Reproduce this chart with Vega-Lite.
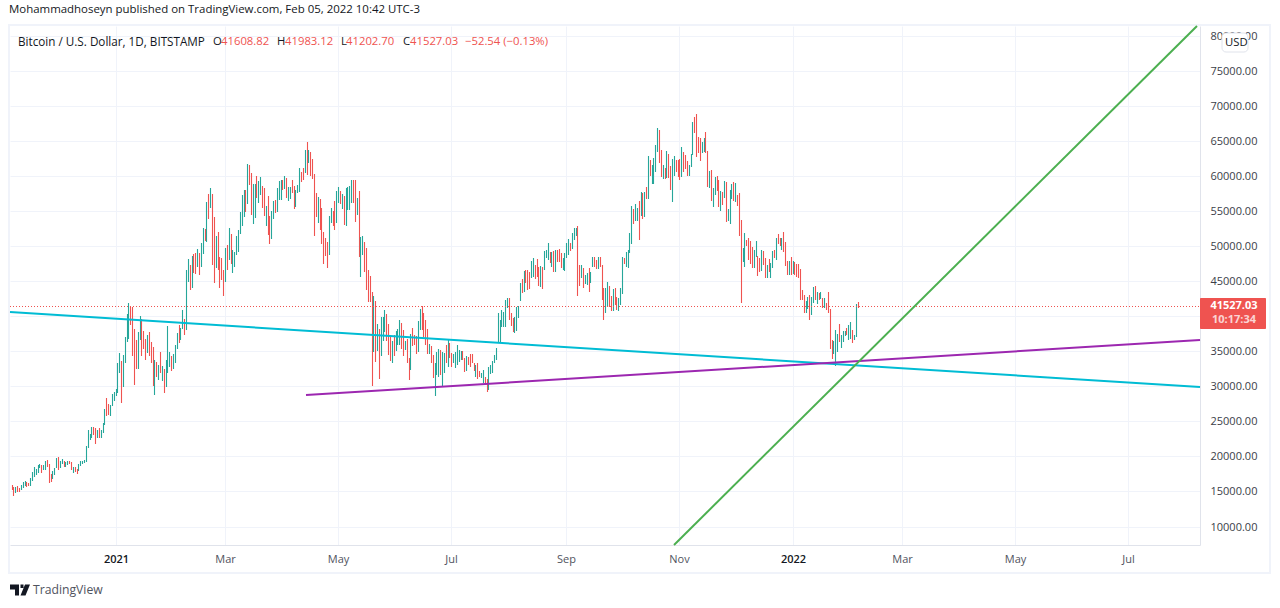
{
"$schema":"https://vega.github.io/schema/vega-lite/v6.json",
"width":1190,"height":519,
"autosize":{"type":"none"},
"padding":{"left":10,"top":26,"right":80,"bottom":63},
"background":"white",
"config":{"view":{"stroke":null},"font":"Open Sans"},
"title":{"text":"Mohammadhoseyn published on TradingView.com, Feb 05, 2022 10:42 UTC-3","anchor":"start","frame":"group","offset":7,"dx":-1,"fontSize":11.45,"fontWeight":"normal","color":"#131722"},
"encoding":{
"x":{"field":"date","type":"temporal","title":null,
"scale":{"type":"utc","domain":["2020-11-05T03:00:00Z","2022-08-08T14:24:00Z"],"round":true},
"axis":{"values":[{"year":2021,"month":1,"date":1,"utc":true},{"year":2021,"month":3,"date":1,"utc":true},{"year":2021,"month":5,"date":1,"utc":true},{"year":2021,"month":7,"date":1,"utc":true},{"year":2021,"month":9,"date":1,"utc":true},{"year":2021,"month":11,"date":1,"utc":true},{"year":2022,"month":1,"date":1,"utc":true},{"year":2022,"month":3,"date":1,"utc":true},{"year":2022,"month":5,"date":1,"utc":true},{"year":2022,"month":7,"date":1,"utc":true}],
"labelExpr":"utcFormat(datum.value,'%m')=='01' ? utcFormat(datum.value,'%Y') : utcFormat(datum.value,'%b')",
"labelColor":{"condition":{"test":"utcFormat(datum.value,'%m')=='01'","value":"#131722"},"value":"#50535e"},
"labelFontWeight":{"condition":{"test":"utcFormat(datum.value,'%m')=='01'","value":600},"value":"normal"},
"labelFontSize":11,"labelPadding":8,"tickSize":0,"grid":true,"gridColor":"#f0f3fa","domainColor":"#e0e3eb"}},
"y":{"field":"price","type":"quantitative","title":null,
"scale":{"domain":[7360,81427],"nice":false,"zero":false,"round":true},
"axis":{"orient":"right","values":[10000,15000,20000,25000,30000,35000,40000,45000,50000,55000,60000,65000,70000,75000,80000],"format":".2f","labelFontSize":11,"labelColor":"#3b3e48","labelPadding":10,"tickSize":0,"grid":true,"gridColor":"#f0f3fa","domainColor":"#e0e3eb"}}
},
"resolve":{"scale":{"color":"independent"}},
"layer":[
{"data":{"values":[{"date":"2020-11-04T14:00:00Z","date2":"2022-09-15T07:00:00Z","price":81570,"price2":3370}],"format":{"parse":{"date":"date","date2":"date"}}},
"mark":{"type":"rect","fillOpacity":0,"stroke":"#f0f3fa","strokeWidth":2},
"encoding":{"x2":{"field":"date2"},"y2":{"field":"price2"}}},
{"data":{"values":[
{"date":"2020-11-06","lo":15212,"hi":15925,"dir":"d"},
{"date":"2020-11-07","lo":14403,"hi":15688,"dir":"d"},
{"date":"2020-11-08","lo":14736,"hi":15688,"dir":"u"},
{"date":"2020-11-09","lo":14926,"hi":15783,"dir":"d"},
{"date":"2020-11-10","lo":14970,"hi":15450,"dir":"d"},
{"date":"2020-11-11","lo":15212,"hi":15925,"dir":"u"},
{"date":"2020-11-12","lo":15450,"hi":16300,"dir":"u"},
{"date":"2020-11-13","lo":15830,"hi":16500,"dir":"u"},
{"date":"2020-11-14","lo":15690,"hi":16300,"dir":"d"},
{"date":"2020-11-15","lo":15780,"hi":16260,"dir":"d"},
{"date":"2020-11-16","lo":15830,"hi":16970,"dir":"u"},
{"date":"2020-11-17","lo":16550,"hi":17830,"dir":"u"},
{"date":"2020-11-18","lo":17100,"hi":18500,"dir":"u"},
{"date":"2020-11-19","lo":17350,"hi":18210,"dir":"u"},
{"date":"2020-11-20","lo":17680,"hi":18780,"dir":"u"},
{"date":"2020-11-21","lo":18300,"hi":18920,"dir":"u"},
{"date":"2020-11-22","lo":17680,"hi":18780,"dir":"d"},
{"date":"2020-11-23","lo":18070,"hi":18730,"dir":"u"},
{"date":"2020-11-24","lo":18070,"hi":19350,"dir":"u"},
{"date":"2020-11-25","lo":18540,"hi":19490,"dir":"d"},
{"date":"2020-11-26","lo":16260,"hi":18920,"dir":"d"},
{"date":"2020-11-27","lo":16400,"hi":17500,"dir":"d"},
{"date":"2020-11-28","lo":16780,"hi":17920,"dir":"u"},
{"date":"2020-11-29","lo":17350,"hi":18300,"dir":"u"},
{"date":"2020-11-30","lo":18400,"hi":19830,"dir":"u"},
{"date":"2020-12-01","lo":18070,"hi":19880,"dir":"d"},
{"date":"2020-12-02","lo":18400,"hi":19350,"dir":"u"},
{"date":"2020-12-03","lo":18920,"hi":19630,"dir":"u"},
{"date":"2020-12-04","lo":18540,"hi":19400,"dir":"d"},
{"date":"2020-12-05","lo":18540,"hi":19200,"dir":"u"},
{"date":"2020-12-06","lo":18780,"hi":19350,"dir":"u"},
{"date":"2020-12-07","lo":18870,"hi":19350,"dir":"d"},
{"date":"2020-12-08","lo":18070,"hi":19200,"dir":"d"},
{"date":"2020-12-09","lo":17680,"hi":18540,"dir":"u"},
{"date":"2020-12-10","lo":17830,"hi":18540,"dir":"d"},
{"date":"2020-12-11","lo":17500,"hi":18210,"dir":"d"},
{"date":"2020-12-12","lo":17970,"hi":18920,"dir":"u"},
{"date":"2020-12-13","lo":18680,"hi":19350,"dir":"u"},
{"date":"2020-12-14","lo":18870,"hi":19350,"dir":"u"},
{"date":"2020-12-15","lo":19110,"hi":19490,"dir":"u"},
{"date":"2020-12-16","lo":19200,"hi":21490,"dir":"u"},
{"date":"2020-12-17","lo":21250,"hi":23770,"dir":"u"},
{"date":"2020-12-18","lo":22340,"hi":23200,"dir":"u"},
{"date":"2020-12-19","lo":22580,"hi":24250,"dir":"u"},
{"date":"2020-12-20","lo":23060,"hi":24150,"dir":"d"},
{"date":"2020-12-21","lo":21780,"hi":24010,"dir":"d"},
{"date":"2020-12-22","lo":22580,"hi":23770,"dir":"u"},
{"date":"2020-12-23","lo":22580,"hi":24010,"dir":"d"},
{"date":"2020-12-24","lo":22580,"hi":23770,"dir":"u"},
{"date":"2020-12-25","lo":23390,"hi":24730,"dir":"u"},
{"date":"2020-12-26","lo":24490,"hi":26720,"dir":"u"},
{"date":"2020-12-27","lo":25770,"hi":28340,"dir":"d"},
{"date":"2020-12-28","lo":25900,"hi":27440,"dir":"d"},
{"date":"2020-12-29","lo":25770,"hi":27340,"dir":"u"},
{"date":"2020-12-30","lo":27200,"hi":28910,"dir":"u"},
{"date":"2020-12-31","lo":27910,"hi":29200,"dir":"u"},
{"date":"2021-01-01","lo":28630,"hi":29625,"dir":"u"},
{"date":"2021-01-02","lo":29100,"hi":33290,"dir":"u"},
{"date":"2021-01-03","lo":31960,"hi":34720,"dir":"u"},
{"date":"2021-01-04","lo":27680,"hi":33620,"dir":"d"},
{"date":"2021-01-05","lo":29960,"hi":34480,"dir":"u"},
{"date":"2021-01-06","lo":33380,"hi":37040,"dir":"u"},
{"date":"2021-01-07","lo":36380,"hi":40330,"dir":"u"},
{"date":"2021-01-08","lo":36710,"hi":41850,"dir":"u"},
{"date":"2021-01-09","lo":38760,"hi":41380,"dir":"d"},
{"date":"2021-01-10","lo":34380,"hi":41380,"dir":"d"},
{"date":"2021-01-11","lo":30200,"hi":38190,"dir":"d"},
{"date":"2021-01-12","lo":32480,"hi":36620,"dir":"d"},
{"date":"2021-01-13","lo":32430,"hi":37760,"dir":"u"},
{"date":"2021-01-14","lo":36620,"hi":40040,"dir":"u"},
{"date":"2021-01-15","lo":34380,"hi":39620,"dir":"d"},
{"date":"2021-01-16","lo":35330,"hi":37900,"dir":"d"},
{"date":"2021-01-17","lo":33760,"hi":36710,"dir":"d"},
{"date":"2021-01-18","lo":34810,"hi":37330,"dir":"u"},
{"date":"2021-01-19","lo":34380,"hi":37760,"dir":"d"},
{"date":"2021-01-20","lo":33380,"hi":36380,"dir":"d"},
{"date":"2021-01-21","lo":30050,"hi":35620,"dir":"d"},
{"date":"2021-01-22","lo":28770,"hi":33760,"dir":"u"},
{"date":"2021-01-23","lo":31380,"hi":33530,"dir":"d"},
{"date":"2021-01-24","lo":30910,"hi":33000,"dir":"u"},
{"date":"2021-01-25","lo":31960,"hi":34910,"dir":"d"},
{"date":"2021-01-26","lo":30810,"hi":32910,"dir":"u"},
{"date":"2021-01-27","lo":29100,"hi":32430,"dir":"d"},
{"date":"2021-01-28","lo":29960,"hi":33760,"dir":"u"},
{"date":"2021-01-29","lo":31960,"hi":38620,"dir":"u"},
{"date":"2021-01-30","lo":32810,"hi":34910,"dir":"u"},
{"date":"2021-01-31","lo":32240,"hi":34340,"dir":"d"},
{"date":"2021-02-01","lo":32430,"hi":34620,"dir":"u"},
{"date":"2021-02-02","lo":33380,"hi":35900,"dir":"u"},
{"date":"2021-02-03","lo":35380,"hi":37620,"dir":"u"},
{"date":"2021-02-04","lo":36240,"hi":38760,"dir":"d"},
{"date":"2021-02-05","lo":36620,"hi":38330,"dir":"u"},
{"date":"2021-02-06","lo":38240,"hi":40900,"dir":"u"},
{"date":"2021-02-07","lo":37330,"hi":39620,"dir":"d"},
{"date":"2021-02-08","lo":38000,"hi":46600,"dir":"u"},
{"date":"2021-02-09","lo":44940,"hi":48170,"dir":"u"},
{"date":"2021-02-10","lo":43750,"hi":47320,"dir":"d"},
{"date":"2021-02-11","lo":44040,"hi":48600,"dir":"u"},
{"date":"2021-02-12","lo":46130,"hi":48890,"dir":"d"},
{"date":"2021-02-13","lo":46040,"hi":48990,"dir":"d"},
{"date":"2021-02-14","lo":47080,"hi":49600,"dir":"u"},
{"date":"2021-02-15","lo":45900,"hi":48990,"dir":"d"},
{"date":"2021-02-16","lo":47080,"hi":50410,"dir":"u"},
{"date":"2021-02-17","lo":48890,"hi":52600,"dir":"u"},
{"date":"2021-02-18","lo":50790,"hi":52460,"dir":"d"},
{"date":"2021-02-19","lo":50600,"hi":56310,"dir":"u"},
{"date":"2021-02-20","lo":53880,"hi":57450,"dir":"d"},
{"date":"2021-02-21","lo":55450,"hi":58310,"dir":"u"},
{"date":"2021-02-22","lo":47320,"hi":57450,"dir":"d"},
{"date":"2021-02-23","lo":44800,"hi":54120,"dir":"d"},
{"date":"2021-02-24","lo":46890,"hi":51460,"dir":"u"},
{"date":"2021-02-25","lo":46610,"hi":52030,"dir":"d"},
{"date":"2021-02-26","lo":44040,"hi":48460,"dir":"d"},
{"date":"2021-02-27","lo":45180,"hi":48320,"dir":"d"},
{"date":"2021-02-28","lo":42900,"hi":46600,"dir":"d"},
{"date":"2021-03-01","lo":44890,"hi":49750,"dir":"u"},
{"date":"2021-03-02","lo":46610,"hi":50170,"dir":"d"},
{"date":"2021-03-03","lo":48030,"hi":52600,"dir":"u"},
{"date":"2021-03-04","lo":47460,"hi":51740,"dir":"d"},
{"date":"2021-03-05","lo":46180,"hi":49460,"dir":"u"},
{"date":"2021-03-06","lo":47030,"hi":49170,"dir":"u"},
{"date":"2021-03-07","lo":48750,"hi":51460,"dir":"u"},
{"date":"2021-03-08","lo":49170,"hi":52310,"dir":"u"},
{"date":"2021-03-09","lo":51740,"hi":54880,"dir":"u"},
{"date":"2021-03-10","lo":52890,"hi":57310,"dir":"u"},
{"date":"2021-03-11","lo":54120,"hi":58020,"dir":"u"},
{"date":"2021-03-12","lo":54880,"hi":58020,"dir":"d"},
{"date":"2021-03-13","lo":56030,"hi":61730,"dir":"u"},
{"date":"2021-03-14","lo":58740,"hi":61590,"dir":"d"},
{"date":"2021-03-15","lo":54460,"hi":60400,"dir":"d"},
{"date":"2021-03-16","lo":53170,"hi":58880,"dir":"u"},
{"date":"2021-03-17","lo":54030,"hi":58880,"dir":"u"},
{"date":"2021-03-18","lo":56830,"hi":60020,"dir":"d"},
{"date":"2021-03-19","lo":56170,"hi":59310,"dir":"u"},
{"date":"2021-03-20","lo":57310,"hi":59880,"dir":"u"},
{"date":"2021-03-21","lo":55450,"hi":58600,"dir":"d"},
{"date":"2021-03-22","lo":54310,"hi":58310,"dir":"d"},
{"date":"2021-03-23","lo":52890,"hi":55740,"dir":"u"},
{"date":"2021-03-24","lo":51600,"hi":57170,"dir":"d"},
{"date":"2021-03-25","lo":50320,"hi":54310,"dir":"d"},
{"date":"2021-03-26","lo":51030,"hi":55020,"dir":"u"},
{"date":"2021-03-27","lo":53880,"hi":56450,"dir":"u"},
{"date":"2021-03-28","lo":54690,"hi":56600,"dir":"d"},
{"date":"2021-03-29","lo":54930,"hi":58310,"dir":"u"},
{"date":"2021-03-30","lo":56600,"hi":59310,"dir":"u"},
{"date":"2021-03-31","lo":56600,"hi":59450,"dir":"u"},
{"date":"2021-04-01","lo":58020,"hi":59450,"dir":"d"},
{"date":"2021-04-02","lo":58120,"hi":60020,"dir":"u"},
{"date":"2021-04-03","lo":56830,"hi":59740,"dir":"d"},
{"date":"2021-04-04","lo":56450,"hi":58450,"dir":"u"},
{"date":"2021-04-05","lo":56740,"hi":58450,"dir":"u"},
{"date":"2021-04-06","lo":57550,"hi":59450,"dir":"d"},
{"date":"2021-04-07","lo":55310,"hi":58600,"dir":"d"},
{"date":"2021-04-08","lo":55600,"hi":58020,"dir":"u"},
{"date":"2021-04-09","lo":57640,"hi":58740,"dir":"u"},
{"date":"2021-04-10","lo":57790,"hi":61160,"dir":"u"},
{"date":"2021-04-11","lo":59160,"hi":60590,"dir":"d"},
{"date":"2021-04-12","lo":59450,"hi":61160,"dir":"d"},
{"date":"2021-04-13","lo":60400,"hi":63730,"dir":"u"},
{"date":"2021-04-14","lo":60170,"hi":64870,"dir":"d"},
{"date":"2021-04-15","lo":61830,"hi":63730,"dir":"u"},
{"date":"2021-04-16","lo":60020,"hi":63450,"dir":"d"},
{"date":"2021-04-17","lo":59590,"hi":62450,"dir":"d"},
{"date":"2021-04-18","lo":51460,"hi":60310,"dir":"d"},
{"date":"2021-04-19","lo":54120,"hi":57600,"dir":"d"},
{"date":"2021-04-20","lo":53310,"hi":57020,"dir":"u"},
{"date":"2021-04-21","lo":52310,"hi":56740,"dir":"d"},
{"date":"2021-04-22","lo":50320,"hi":55450,"dir":"d"},
{"date":"2021-04-23","lo":47460,"hi":52030,"dir":"d"},
{"date":"2021-04-24","lo":48600,"hi":51170,"dir":"d"},
{"date":"2021-04-25","lo":46890,"hi":50600,"dir":"d"},
{"date":"2021-04-26","lo":48750,"hi":54310,"dir":"u"},
{"date":"2021-04-27","lo":53310,"hi":55450,"dir":"u"},
{"date":"2021-04-28","lo":52890,"hi":55020,"dir":"d"},
{"date":"2021-04-29","lo":52310,"hi":56450,"dir":"d"},
{"date":"2021-04-30","lo":53310,"hi":57880,"dir":"u"},
{"date":"2021-05-01","lo":56170,"hi":58450,"dir":"u"},
{"date":"2021-05-02","lo":56030,"hi":57880,"dir":"d"},
{"date":"2021-05-03","lo":55300,"hi":57460,"dir":"u"},
{"date":"2021-05-04","lo":53030,"hi":57170,"dir":"d"},
{"date":"2021-05-05","lo":52890,"hi":58310,"dir":"u"},
{"date":"2021-05-06","lo":55170,"hi":58450,"dir":"u"},
{"date":"2021-05-07","lo":55170,"hi":58600,"dir":"u"},
{"date":"2021-05-08","lo":56120,"hi":59450,"dir":"u"},
{"date":"2021-05-09","lo":56220,"hi":59450,"dir":"d"},
{"date":"2021-05-10","lo":53500,"hi":59450,"dir":"d"},
{"date":"2021-05-11","lo":54460,"hi":56880,"dir":"u"},
{"date":"2021-05-12","lo":48510,"hi":57880,"dir":"d"},
{"date":"2021-05-13","lo":45660,"hi":51310,"dir":"u"},
{"date":"2021-05-14","lo":48750,"hi":51460,"dir":"u"},
{"date":"2021-05-15","lo":46320,"hi":50600,"dir":"d"},
{"date":"2021-05-16","lo":43750,"hi":49750,"dir":"d"},
{"date":"2021-05-17","lo":41990,"hi":46600,"dir":"d"},
{"date":"2021-05-18","lo":42040,"hi":45750,"dir":"d"},
{"date":"2021-05-19","lo":30100,"hi":43470,"dir":"d"},
{"date":"2021-05-20","lo":34900,"hi":42900,"dir":"u"},
{"date":"2021-05-21","lo":33480,"hi":42180,"dir":"d"},
{"date":"2021-05-22","lo":35100,"hi":38900,"dir":"u"},
{"date":"2021-05-23","lo":31050,"hi":38190,"dir":"d"},
{"date":"2021-05-24","lo":34330,"hi":39900,"dir":"u"},
{"date":"2021-05-25","lo":36480,"hi":39900,"dir":"u"},
{"date":"2021-05-26","lo":37800,"hi":40900,"dir":"u"},
{"date":"2021-05-27","lo":36480,"hi":40330,"dir":"d"},
{"date":"2021-05-28","lo":34480,"hi":38900,"dir":"d"},
{"date":"2021-05-29","lo":33620,"hi":37330,"dir":"d"},
{"date":"2021-05-30","lo":33340,"hi":36480,"dir":"u"},
{"date":"2021-05-31","lo":34330,"hi":37330,"dir":"d"},
{"date":"2021-06-01","lo":35050,"hi":37900,"dir":"u"},
{"date":"2021-06-02","lo":35900,"hi":38190,"dir":"u"},
{"date":"2021-06-03","lo":35900,"hi":39470,"dir":"u"},
{"date":"2021-06-04","lo":35330,"hi":39040,"dir":"d"},
{"date":"2021-06-05","lo":34330,"hi":38050,"dir":"d"},
{"date":"2021-06-06","lo":35190,"hi":36480,"dir":"u"},
{"date":"2021-06-07","lo":33340,"hi":36760,"dir":"d"},
{"date":"2021-06-08","lo":30910,"hi":34050,"dir":"d"},
{"date":"2021-06-09","lo":32340,"hi":37470,"dir":"u"},
{"date":"2021-06-10","lo":35760,"hi":38330,"dir":"d"},
{"date":"2021-06-11","lo":35900,"hi":37330,"dir":"d"},
{"date":"2021-06-12","lo":34620,"hi":37190,"dir":"d"},
{"date":"2021-06-13","lo":34900,"hi":39330,"dir":"u"},
{"date":"2021-06-14","lo":38050,"hi":41040,"dir":"u"},
{"date":"2021-06-15","lo":38050,"hi":41470,"dir":"d"},
{"date":"2021-06-16","lo":37090,"hi":40420,"dir":"d"},
{"date":"2021-06-17","lo":35900,"hi":39470,"dir":"d"},
{"date":"2021-06-18","lo":34620,"hi":38190,"dir":"d"},
{"date":"2021-06-19","lo":34620,"hi":36050,"dir":"u"},
{"date":"2021-06-20","lo":33340,"hi":35750,"dir":"d"},
{"date":"2021-06-21","lo":31200,"hi":34480,"dir":"d"},
{"date":"2021-06-22","lo":28670,"hi":33290,"dir":"u"},
{"date":"2021-06-23","lo":31623,"hi":34905,"dir":"u"},
{"date":"2021-06-24","lo":31338,"hi":35333,"dir":"u"},
{"date":"2021-06-25","lo":31623,"hi":35190,"dir":"d"},
{"date":"2021-06-26","lo":30053,"hi":34905,"dir":"u"},
{"date":"2021-06-27","lo":31861,"hi":34763,"dir":"u"},
{"date":"2021-06-28","lo":33288,"hi":35904,"dir":"d"},
{"date":"2021-06-29","lo":32812,"hi":36618,"dir":"u"},
{"date":"2021-06-30","lo":34001,"hi":36142,"dir":"d"},
{"date":"2021-07-01","lo":32717,"hi":34810,"dir":"d"},
{"date":"2021-07-02","lo":33288,"hi":34620,"dir":"u"},
{"date":"2021-07-03","lo":32622,"hi":34905,"dir":"u"},
{"date":"2021-07-04","lo":33050,"hi":35904,"dir":"u"},
{"date":"2021-07-05","lo":33526,"hi":35190,"dir":"u"},
{"date":"2021-07-06","lo":33764,"hi":35000,"dir":"u"},
{"date":"2021-07-07","lo":33764,"hi":35000,"dir":"d"},
{"date":"2021-07-08","lo":32051,"hi":34002,"dir":"d"},
{"date":"2021-07-09","lo":32194,"hi":34335,"dir":"u"},
{"date":"2021-07-10","lo":33098,"hi":34239,"dir":"d"},
{"date":"2021-07-11","lo":32717,"hi":34620,"dir":"d"},
{"date":"2021-07-12","lo":33288,"hi":34620,"dir":"d"},
{"date":"2021-07-13","lo":32147,"hi":33288,"dir":"d"},
{"date":"2021-07-14","lo":31385,"hi":33050,"dir":"u"},
{"date":"2021-07-15","lo":31052,"hi":33288,"dir":"d"},
{"date":"2021-07-16","lo":31338,"hi":32147,"dir":"d"},
{"date":"2021-07-17","lo":31147,"hi":31956,"dir":"u"},
{"date":"2021-07-18","lo":30434,"hi":32337,"dir":"u"},
{"date":"2021-07-19","lo":30339,"hi":31385,"dir":"d"},
{"date":"2021-07-20","lo":29245,"hi":31052,"dir":"d"},
{"date":"2021-07-21","lo":29480,"hi":32760,"dir":"u"},
{"date":"2021-07-22","lo":31720,"hi":33050,"dir":"u"},
{"date":"2021-07-23","lo":31860,"hi":33620,"dir":"u"},
{"date":"2021-07-24","lo":33290,"hi":34520,"dir":"u"},
{"date":"2021-07-25","lo":33760,"hi":35430,"dir":"u"},
{"date":"2021-07-26","lo":36240,"hi":40520,"dir":"u"},
{"date":"2021-07-27","lo":36380,"hi":39470,"dir":"u"},
{"date":"2021-07-28","lo":38520,"hi":40900,"dir":"u"},
{"date":"2021-07-29","lo":38520,"hi":40610,"dir":"u"},
{"date":"2021-07-30","lo":38420,"hi":42320,"dir":"u"},
{"date":"2021-07-31","lo":41130,"hi":42560,"dir":"u"},
{"date":"2021-08-01","lo":39470,"hi":42610,"dir":"d"},
{"date":"2021-08-02","lo":38620,"hi":40520,"dir":"d"},
{"date":"2021-08-03","lo":37810,"hi":39710,"dir":"d"},
{"date":"2021-08-04","lo":37570,"hi":39950,"dir":"u"},
{"date":"2021-08-05","lo":37900,"hi":41280,"dir":"u"},
{"date":"2021-08-06","lo":39710,"hi":41470,"dir":"u"},
{"date":"2021-08-07","lo":42180,"hi":44800,"dir":"u"},
{"date":"2021-08-08","lo":43280,"hi":45270,"dir":"d"},
{"date":"2021-08-09","lo":43520,"hi":46470,"dir":"u"},
{"date":"2021-08-10","lo":44700,"hi":46610,"dir":"d"},
{"date":"2021-08-11","lo":43750,"hi":46610,"dir":"d"},
{"date":"2021-08-12","lo":43850,"hi":46370,"dir":"d"},
{"date":"2021-08-13","lo":45420,"hi":47940,"dir":"u"},
{"date":"2021-08-14","lo":45650,"hi":48370,"dir":"u"},
{"date":"2021-08-15","lo":45270,"hi":47320,"dir":"d"},
{"date":"2021-08-16","lo":45560,"hi":48130,"dir":"d"},
{"date":"2021-08-17","lo":44320,"hi":47080,"dir":"d"},
{"date":"2021-08-18","lo":44230,"hi":47180,"dir":"u"},
{"date":"2021-08-19","lo":43940,"hi":47080,"dir":"d"},
{"date":"2021-08-20","lo":46610,"hi":49320,"dir":"u"},
{"date":"2021-08-21","lo":48260,"hi":49460,"dir":"u"},
{"date":"2021-08-22","lo":48030,"hi":50410,"dir":"u"},
{"date":"2021-08-23","lo":47560,"hi":49220,"dir":"d"},
{"date":"2021-08-24","lo":47080,"hi":49220,"dir":"u"},
{"date":"2021-08-25","lo":46370,"hi":49360,"dir":"d"},
{"date":"2021-08-26","lo":46370,"hi":49460,"dir":"u"},
{"date":"2021-08-27","lo":47800,"hi":49460,"dir":"d"},
{"date":"2021-08-28","lo":47800,"hi":49600,"dir":"d"},
{"date":"2021-08-29","lo":46850,"hi":48990,"dir":"d"},
{"date":"2021-08-30","lo":46610,"hi":48270,"dir":"u"},
{"date":"2021-08-31","lo":46470,"hi":48990,"dir":"u"},
{"date":"2021-09-01","lo":48270,"hi":50410,"dir":"u"},
{"date":"2021-09-02","lo":48740,"hi":50980,"dir":"u"},
{"date":"2021-09-03","lo":49270,"hi":50500,"dir":"d"},
{"date":"2021-09-04","lo":49560,"hi":51930,"dir":"u"},
{"date":"2021-09-05","lo":50890,"hi":52550,"dir":"u"},
{"date":"2021-09-06","lo":51400,"hi":52550,"dir":"u"},
{"date":"2021-09-07","lo":42900,"hi":52890,"dir":"d"},
{"date":"2021-09-08","lo":44320,"hi":47320,"dir":"d"},
{"date":"2021-09-09","lo":45510,"hi":47320,"dir":"u"},
{"date":"2021-09-10","lo":43990,"hi":46940,"dir":"d"},
{"date":"2021-09-11","lo":44610,"hi":45890,"dir":"u"},
{"date":"2021-09-12","lo":44470,"hi":46130,"dir":"u"},
{"date":"2021-09-13","lo":43420,"hi":46940,"dir":"d"},
{"date":"2021-09-14","lo":44700,"hi":46370,"dir":"u"},
{"date":"2021-09-15","lo":47080,"hi":48510,"dir":"u"},
{"date":"2021-09-16","lo":46990,"hi":48410,"dir":"d"},
{"date":"2021-09-17","lo":46700,"hi":48030,"dir":"d"},
{"date":"2021-09-18","lo":46700,"hi":48510,"dir":"u"},
{"date":"2021-09-19","lo":47080,"hi":48510,"dir":"d"},
{"date":"2021-09-20","lo":42330,"hi":47320,"dir":"d"},
{"date":"2021-09-21","lo":39470,"hi":43990,"dir":"d"},
{"date":"2021-09-22","lo":40520,"hi":43990,"dir":"u"},
{"date":"2021-09-23","lo":41280,"hi":44940,"dir":"u"},
{"date":"2021-09-24","lo":41280,"hi":44370,"dir":"d"},
{"date":"2021-09-25","lo":40800,"hi":42900,"dir":"d"},
{"date":"2021-09-26","lo":40750,"hi":43900,"dir":"u"},
{"date":"2021-09-27","lo":41610,"hi":43990,"dir":"d"},
{"date":"2021-09-28","lo":40900,"hi":42800,"dir":"d"},
{"date":"2021-09-29","lo":40750,"hi":42660,"dir":"u"},
{"date":"2021-09-30","lo":41610,"hi":43990,"dir":"u"},
{"date":"2021-10-01","lo":43180,"hi":48410,"dir":"u"},
{"date":"2021-10-02","lo":47420,"hi":48270,"dir":"d"},
{"date":"2021-10-03","lo":47080,"hi":49220,"dir":"u"},
{"date":"2021-10-04","lo":46940,"hi":49460,"dir":"u"},
{"date":"2021-10-05","lo":48990,"hi":51840,"dir":"u"},
{"date":"2021-10-06","lo":50320,"hi":55740,"dir":"u"},
{"date":"2021-10-07","lo":53220,"hi":55310,"dir":"d"},
{"date":"2021-10-08","lo":53600,"hi":56030,"dir":"u"},
{"date":"2021-10-09","lo":53600,"hi":55410,"dir":"u"},
{"date":"2021-10-10","lo":50890,"hi":56450,"dir":"d"},
{"date":"2021-10-11","lo":54360,"hi":57690,"dir":"u"},
{"date":"2021-10-12","lo":53890,"hi":57550,"dir":"d"},
{"date":"2021-10-13","lo":54220,"hi":57690,"dir":"u"},
{"date":"2021-10-14","lo":56740,"hi":58450,"dir":"d"},
{"date":"2021-10-15","lo":56740,"hi":62880,"dir":"u"},
{"date":"2021-10-16","lo":60070,"hi":62300,"dir":"d"},
{"date":"2021-10-17","lo":58880,"hi":61590,"dir":"u"},
{"date":"2021-10-18","lo":58880,"hi":62590,"dir":"u"},
{"date":"2021-10-19","lo":60640,"hi":64450,"dir":"u"},
{"date":"2021-10-20","lo":63490,"hi":66870,"dir":"u"},
{"date":"2021-10-21","lo":61830,"hi":66590,"dir":"d"},
{"date":"2021-10-22","lo":59880,"hi":63730,"dir":"d"},
{"date":"2021-10-23","lo":59590,"hi":61590,"dir":"u"},
{"date":"2021-10-24","lo":59590,"hi":61110,"dir":"d"},
{"date":"2021-10-25","lo":59690,"hi":63590,"dir":"u"},
{"date":"2021-10-26","lo":59780,"hi":63160,"dir":"d"},
{"date":"2021-10-27","lo":58020,"hi":61450,"dir":"d"},
{"date":"2021-10-28","lo":56310,"hi":62450,"dir":"u"},
{"date":"2021-10-29","lo":60070,"hi":62880,"dir":"u"},
{"date":"2021-10-30","lo":60550,"hi":62300,"dir":"d"},
{"date":"2021-10-31","lo":59930,"hi":62300,"dir":"d"},
{"date":"2021-11-01","lo":59450,"hi":62450,"dir":"d"},
{"date":"2021-11-02","lo":59930,"hi":64160,"dir":"u"},
{"date":"2021-11-03","lo":60640,"hi":63450,"dir":"d"},
{"date":"2021-11-04","lo":61020,"hi":63020,"dir":"d"},
{"date":"2021-11-05","lo":60070,"hi":62160,"dir":"d"},
{"date":"2021-11-06","lo":60020,"hi":61590,"dir":"u"},
{"date":"2021-11-07","lo":61260,"hi":63160,"dir":"u"},
{"date":"2021-11-08","lo":63020,"hi":67780,"dir":"u"},
{"date":"2021-11-09","lo":66160,"hi":68440,"dir":"d"},
{"date":"2021-11-10","lo":62780,"hi":68870,"dir":"d"},
{"date":"2021-11-11","lo":63260,"hi":65590,"dir":"d"},
{"date":"2021-11-12","lo":62160,"hi":65450,"dir":"d"},
{"date":"2021-11-13","lo":63260,"hi":64870,"dir":"u"},
{"date":"2021-11-14","lo":63490,"hi":65450,"dir":"u"},
{"date":"2021-11-15","lo":63260,"hi":66300,"dir":"d"},
{"date":"2021-11-16","lo":58450,"hi":63590,"dir":"d"},
{"date":"2021-11-17","lo":58260,"hi":60730,"dir":"u"},
{"date":"2021-11-18","lo":56450,"hi":60880,"dir":"d"},
{"date":"2021-11-19","lo":55600,"hi":58310,"dir":"u"},
{"date":"2021-11-20","lo":57310,"hi":59880,"dir":"u"},
{"date":"2021-11-21","lo":57880,"hi":60020,"dir":"d"},
{"date":"2021-11-22","lo":55600,"hi":59450,"dir":"d"},
{"date":"2021-11-23","lo":55030,"hi":57880,"dir":"u"},
{"date":"2021-11-24","lo":55880,"hi":57740,"dir":"d"},
{"date":"2021-11-25","lo":56830,"hi":59310,"dir":"u"},
{"date":"2021-11-26","lo":53460,"hi":59170,"dir":"d"},
{"date":"2021-11-27","lo":53600,"hi":55310,"dir":"u"},
{"date":"2021-11-28","lo":53170,"hi":58020,"dir":"u"},
{"date":"2021-11-29","lo":56690,"hi":58880,"dir":"u"},
{"date":"2021-11-30","lo":56450,"hi":59170,"dir":"d"},
{"date":"2021-12-01","lo":56360,"hi":58980,"dir":"u"},
{"date":"2021-12-02","lo":55790,"hi":57310,"dir":"d"},
{"date":"2021-12-03","lo":51510,"hi":57600,"dir":"d"},
{"date":"2021-12-04","lo":41950,"hi":53740,"dir":"d"},
{"date":"2021-12-05","lo":47800,"hi":49700,"dir":"u"},
{"date":"2021-12-06","lo":47080,"hi":51840,"dir":"u"},
{"date":"2021-12-07","lo":50080,"hi":50890,"dir":"d"},
{"date":"2021-12-08","lo":48040,"hi":51130,"dir":"d"},
{"date":"2021-12-09","lo":47420,"hi":50750,"dir":"d"},
{"date":"2021-12-10","lo":46850,"hi":49940,"dir":"d"},
{"date":"2021-12-11","lo":46850,"hi":49460,"dir":"u"},
{"date":"2021-12-12","lo":48510,"hi":50750,"dir":"u"},
{"date":"2021-12-13","lo":45800,"hi":48650,"dir":"d"},
{"date":"2021-12-14","lo":46370,"hi":48270,"dir":"d"},
{"date":"2021-12-15","lo":46460,"hi":49460,"dir":"u"},
{"date":"2021-12-16","lo":47320,"hi":49370,"dir":"d"},
{"date":"2021-12-17","lo":45510,"hi":48270,"dir":"d"},
{"date":"2021-12-18","lo":45510,"hi":47320,"dir":"u"},
{"date":"2021-12-19","lo":46370,"hi":48130,"dir":"d"},
{"date":"2021-12-20","lo":45510,"hi":47560,"dir":"u"},
{"date":"2021-12-21","lo":46850,"hi":49320,"dir":"u"},
{"date":"2021-12-22","lo":48270,"hi":49460,"dir":"d"},
{"date":"2021-12-23","lo":48080,"hi":51220,"dir":"u"},
{"date":"2021-12-24","lo":50270,"hi":51700,"dir":"d"},
{"date":"2021-12-25","lo":50030,"hi":51130,"dir":"d"},
{"date":"2021-12-26","lo":49460,"hi":51130,"dir":"u"},
{"date":"2021-12-27","lo":49220,"hi":52080,"dir":"d"},
{"date":"2021-12-28","lo":47230,"hi":50650,"dir":"d"},
{"date":"2021-12-29","lo":45890,"hi":47890,"dir":"d"},
{"date":"2021-12-30","lo":45890,"hi":47890,"dir":"u"},
{"date":"2021-12-31","lo":45890,"hi":48510,"dir":"d"},
{"date":"2022-01-01","lo":45990,"hi":47890,"dir":"u"},
{"date":"2022-01-02","lo":45890,"hi":47800,"dir":"d"},
{"date":"2022-01-03","lo":45660,"hi":47420,"dir":"d"},
{"date":"2022-01-04","lo":45510,"hi":47420,"dir":"d"},
{"date":"2022-01-05","lo":42330,"hi":46750,"dir":"d"},
{"date":"2022-01-06","lo":42330,"hi":43750,"dir":"d"},
{"date":"2022-01-07","lo":40520,"hi":43040,"dir":"d"},
{"date":"2022-01-08","lo":40520,"hi":42180,"dir":"u"},
{"date":"2022-01-09","lo":41040,"hi":42800,"dir":"u"},
{"date":"2022-01-10","lo":39470,"hi":43040,"dir":"d"},
{"date":"2022-01-11","lo":40190,"hi":42800,"dir":"u"},
{"date":"2022-01-12","lo":41850,"hi":44230,"dir":"u"},
{"date":"2022-01-13","lo":42330,"hi":44320,"dir":"d"},
{"date":"2022-01-14","lo":41760,"hi":43520,"dir":"u"},
{"date":"2022-01-15","lo":42330,"hi":43280,"dir":"d"},
{"date":"2022-01-16","lo":42470,"hi":43520,"dir":"u"},
{"date":"2022-01-17","lo":41230,"hi":42560,"dir":"d"},
{"date":"2022-01-18","lo":41140,"hi":42560,"dir":"u"},
{"date":"2022-01-19","lo":40900,"hi":41850,"dir":"d"},
{"date":"2022-01-20","lo":40420,"hi":43420,"dir":"d"},
{"date":"2022-01-21","lo":35330,"hi":41040,"dir":"d"},
{"date":"2022-01-22","lo":33910,"hi":36620,"dir":"d"},
{"date":"2022-01-23","lo":34570,"hi":36480,"dir":"u"},
{"date":"2022-01-24","lo":32960,"hi":38050,"dir":"u"},
{"date":"2022-01-25","lo":34950,"hi":37430,"dir":"u"},
{"date":"2022-01-26","lo":36290,"hi":38900,"dir":"d"},
{"date":"2022-01-27","lo":35520,"hi":37330,"dir":"u"},
{"date":"2022-01-28","lo":36290,"hi":37900,"dir":"u"},
{"date":"2022-01-29","lo":37190,"hi":37900,"dir":"u"},
{"date":"2022-01-30","lo":37330,"hi":38380,"dir":"d"},
{"date":"2022-01-31","lo":36620,"hi":38760,"dir":"u"},
{"date":"2022-02-01","lo":36710,"hi":39140,"dir":"u"},
{"date":"2022-02-02","lo":36240,"hi":38000,"dir":"d"},
{"date":"2022-02-03","lo":36620,"hi":37330,"dir":"u"},
{"date":"2022-02-04","lo":37090,"hi":41760,"dir":"u"},
{"date":"2022-02-05","lo":41202.7,"hi":41983.12,"dir":"d"}
]},
"mark":{"type":"rule","strokeWidth":1.1,"xOffset":0.5},
"encoding":{
"y":{"field":"lo","type":"quantitative","title":null,"scale":{"domain":[7360,81427],"nice":false,"zero":false,"round":true},
"axis":{"orient":"right","values":[10000,15000,20000,25000,30000,35000,40000,45000,50000,55000,60000,65000,70000,75000,80000],"format":".2f","labelFontSize":11,"labelColor":"#3b3e48","labelPadding":10,"tickSize":0,"grid":true,"gridColor":"#f0f3fa","domainColor":"#e0e3eb"}},
"y2":{"field":"hi"},
"color":{"field":"dir","type":"nominal","scale":{"domain":["u","d"],"range":["#26a69a","#ef5350"]},"legend":null}}},
{"data":{"values":[{"date":"2020-11-05T03:00:00Z","price":41527.03},{"date":"2022-08-08T14:24:00Z","price":41527.03}]},
"mark":{"type":"line","color":"#ef5350","strokeWidth":1,"strokeDash":[1,2],"yOffset":0.5},"encoding":{}},
{"data":{"values":[
{"line":"cyan","date":"2020-11-05T03:00:00Z","price":40542},
{"line":"cyan","date":"2022-08-08T14:24:00Z","price":29912},
{"line":"purple","date":"2021-04-13T10:00:00Z","price":28770},
{"line":"purple","date":"2022-08-08T14:24:00Z","price":36619},
{"line":"green","date":"2021-10-29T01:00:00Z","price":7360},
{"line":"green","date":"2022-08-07T00:00:00Z","price":81427}
]},
"mark":{"type":"line","strokeWidth":2},
"encoding":{"color":{"field":"line","type":"nominal","scale":{"domain":["cyan","purple","green"],"range":["#00bcd4","#9c27b0","#4caf50"]},"legend":null}}},
{"data":{"values":[{"date":"2022-08-08T14:24:00Z","date2":"2022-09-13T05:00:00Z","price":42613,"price2":38190}],"format":{"parse":{"date":"date","date2":"date"}}},
"mark":{"type":"rect","color":"#ef5350","cornerRadius":1},
"encoding":{"x2":{"field":"date2"},"y2":{"field":"price2"}}},
{"data":{"values":[{"date":"2022-08-20T12:00:00Z","date2":"2022-09-03T12:00:00Z","price":80428,"price2":77717}],"format":{"parse":{"date":"date","date2":"date"}}},
"mark":{"type":"rect","fill":"#ffffff","stroke":"#e0e3eb","strokeWidth":1,"cornerRadius":4},
"encoding":{"x2":{"field":"date2"},"y2":{"field":"price2"}}},
{"data":{"values":[
{"date":"2021-02-22T10:00:00Z","price":79144,"text":"O","role":"label"},
{"date":"2021-02-26T21:00:00Z","price":79144,"text":"41608.82","role":"value"},
{"date":"2021-03-28T22:00:00Z","price":79144,"text":"H","role":"label"},
{"date":"2021-04-02T09:00:00Z","price":79144,"text":"41983.12","role":"value"},
{"date":"2021-05-02T07:00:00Z","price":79144,"text":"L","role":"label"},
{"date":"2021-05-05T06:00:00Z","price":79144,"text":"41202.70","role":"value"},
{"date":"2021-06-04T19:00:00Z","price":79144,"text":"C","role":"label"},
{"date":"2021-06-08T12:00:00Z","price":79144,"text":"41527.03","role":"value"},
{"date":"2021-07-08T10:00:00Z","price":79144,"text":"−52.54 (−0.13%)","role":"value"},
{"date":"2022-08-22T03:00:00Z","price":79072,"text":"USD","role":"label"}
]},
"mark":{"type":"text","align":"left","baseline":"middle","fontSize":11.3},
"encoding":{"text":{"field":"text"},"color":{"field":"role","type":"nominal","scale":{"domain":["label","value"],"range":["#131722","#ef5350"]},"legend":null}}},
{"data":{"values":[{"date":"2020-11-09T16:00:00Z","price":79144,"text":"Bitcoin / U.S. Dollar, 1D, BITSTAMP"}]},
"mark":{"type":"text","align":"left","baseline":"middle","fontSize":11.7,"color":"#131722"},
"encoding":{"text":{"field":"text"}}},
{"data":{"values":[{"date":"2020-11-17T12:00:00Z","price":945,"text":"TradingView"}]},
"mark":{"type":"text","align":"left","baseline":"middle","fontSize":12.2,"color":"#50535e"},
"encoding":{"text":{"field":"text"}}},
{"data":{"values":[{"date":"2022-08-27T00:00:00Z","price":41400,"text":"41527.03"}]},
"mark":{"type":"text","align":"center","baseline":"middle","fontSize":11,"fontWeight":"bold","color":"#ffffff"},
"encoding":{"text":{"field":"text"}}},
{"data":{"values":[{"date":"2022-08-27T00:00:00Z","price":39400,"text":"10:17:34"}]},
"mark":{"type":"text","align":"center","baseline":"middle","fontSize":11,"fontWeight":"bold","color":"#ffffff","opacity":0.75},
"encoding":{"text":{"field":"text"}}},
{"data":{"values":[{"date":"2020-11-10T06:00:00Z","price":870}]},
"mark":{"type":"point","filled":true,"opacity":1,"size":400,"color":"#131722","shape":"M-1,-0.55 L-0.1,-0.55 L-0.1,0.55 L-0.5,0.55 L-0.5,-0.05 L-1,-0.05 Z M0.05,-0.55 L0.35,-0.55 L0.35,-0.2 L0.05,-0.2 Z M0.5,-0.55 L1,-0.55 L0.55,0.55 L0.05,0.55 Z"},
"encoding":{}}
]
}
